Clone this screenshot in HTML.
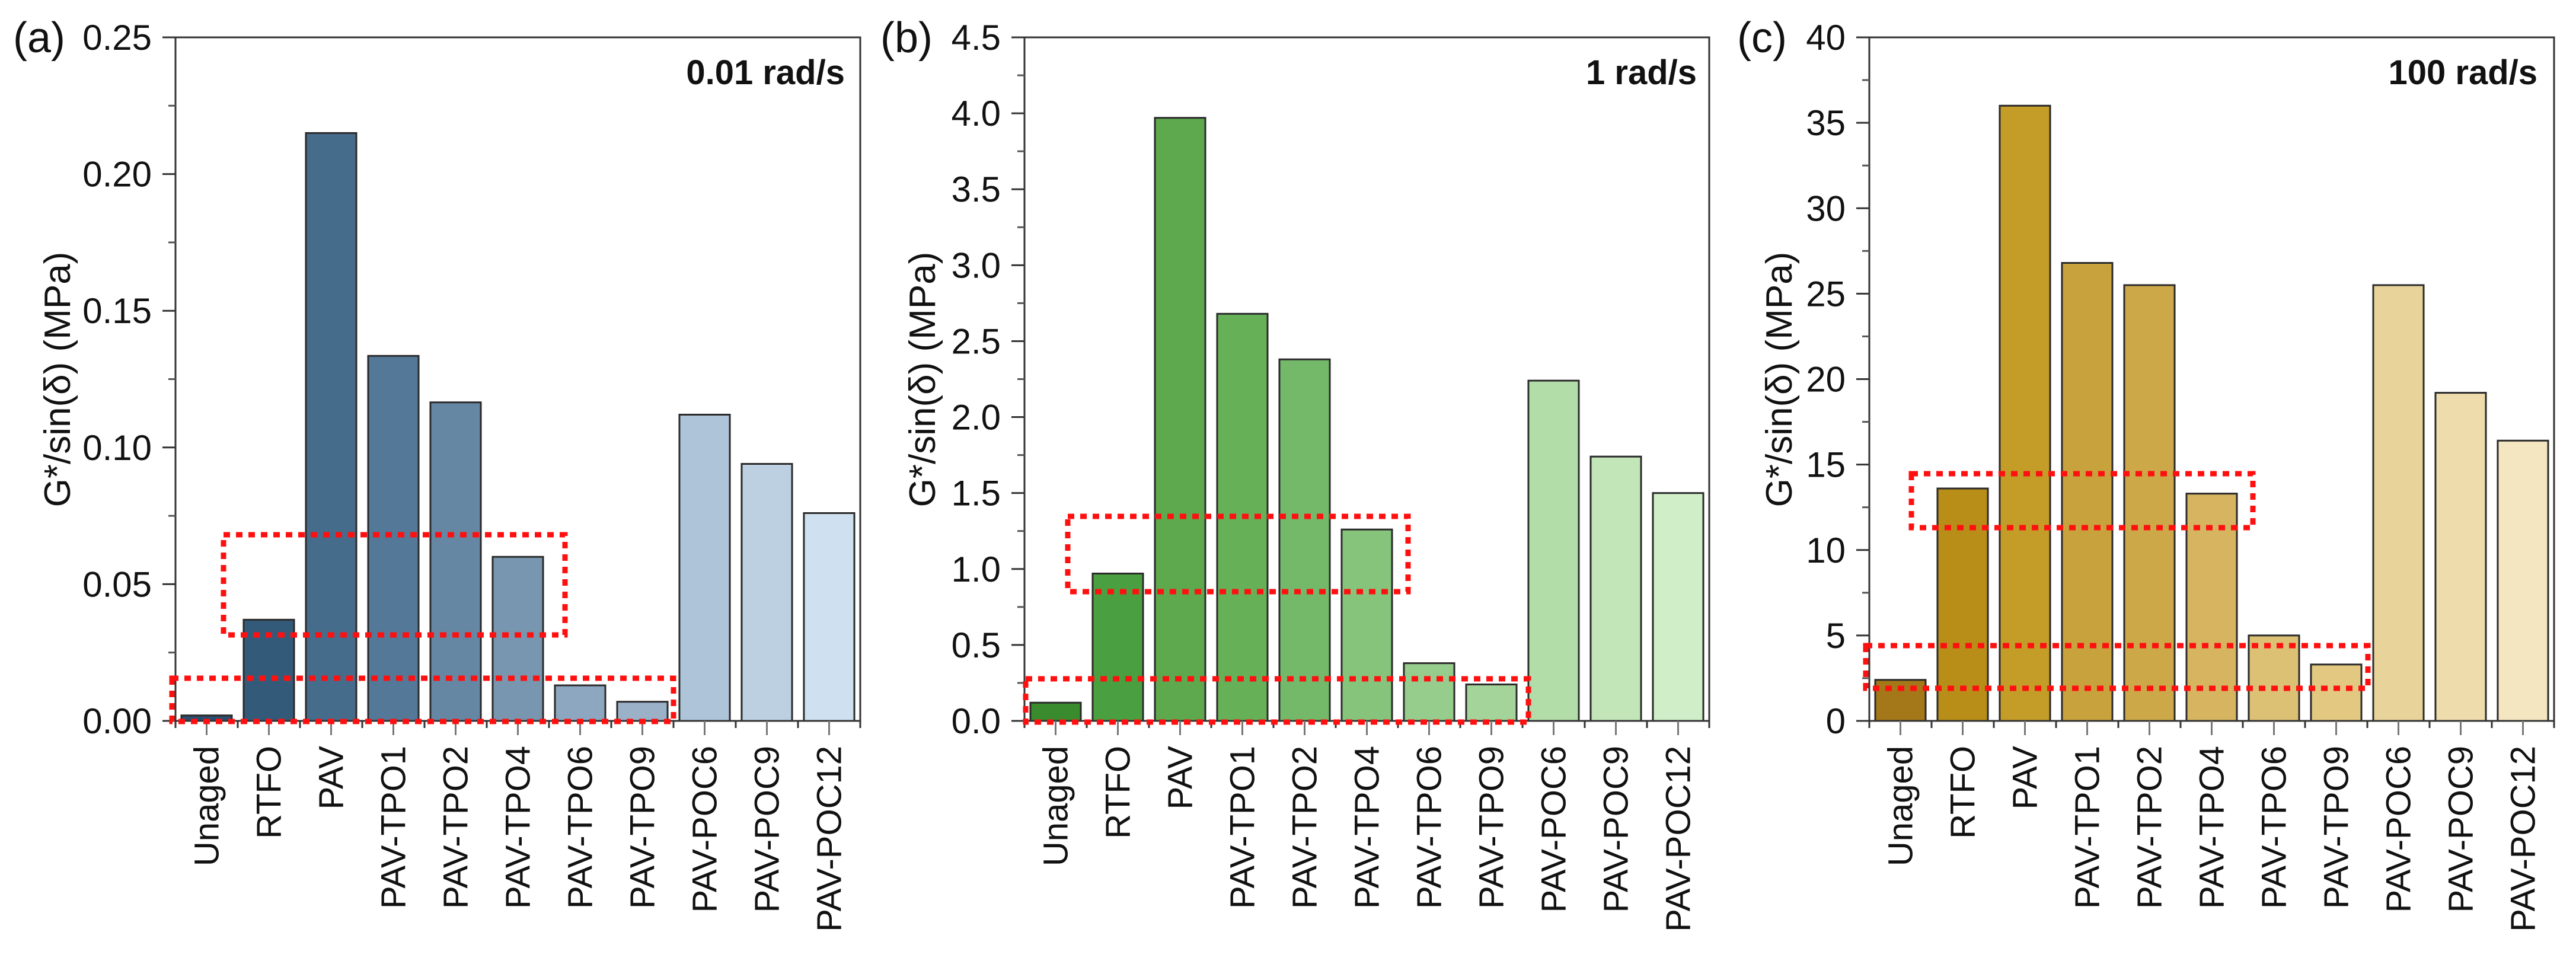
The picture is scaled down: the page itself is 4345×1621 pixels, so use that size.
<!DOCTYPE html>
<html><head><meta charset="utf-8"><style>
html,body{margin:0;padding:0;background:#fff;}
svg{display:block;font-family:"Liberation Sans",Arial,sans-serif;}
</style></head><body>
<svg id="chart" width="4345" height="1621" viewBox="0 0 4345 1621" xmlns="http://www.w3.org/2000/svg"></svg>
<script>
const categories = ["Unaged","RTFO","PAV","PAV-TPO1","PAV-TPO2","PAV-TPO4","PAV-TPO6","PAV-TPO9","PAV-POC6","PAV-POC9","PAV-POC12"];
const valuesA = [0.002,0.037,0.215,0.1335,0.1165,0.060,0.013,0.007,0.112,0.094,0.076];
const valuesB = [0.12,0.97,3.97,2.68,2.38,1.26,0.38,0.24,2.24,1.74,1.50];
const valuesC = [2.4,13.6,36.0,26.8,25.5,13.3,5.0,3.3,25.5,19.2,16.4];
const ticksA = ["0.00","0.05","0.10","0.15","0.20","0.25"];
const ticksB = ["0.0","0.5","1.0","1.5","2.0","2.5","3.0","3.5","4.0","4.5"];
const ticksC = ["0","5","10","15","20","25","30","35","40"];
const colorsA = ["#2c4e6e","#345a7a","#466c8c","#537898","#6687a3","#7896af","#8ca7bf","#9ab1c8","#aec4d8","#bcd0e2","#cfe1f0"];
const colorsB = ["#3a8a2e","#4aa040","#5ea84e","#66b058","#74b86a","#86c47c","#96cc8c","#a4d49a","#b2dca8","#c2e6b8","#d0eec8"];
const colorsC = ["#a47818","#b88e18","#c49c28","#c8a23c","#cca848","#d6b460","#dcc074","#e2c880","#e8d49a","#eedcac","#f4e6c0"];

const NS="http://www.w3.org/2000/svg";
const svg=document.getElementById('chart');
function mk(tag,attrs,parent){const e=document.createElementNS(NS,tag);for(const k in attrs)e.setAttribute(k,attrs[k]);(parent||svg).appendChild(e);return e;}

const panels=[
 {id:"a",left:296,vals:valuesA,ticks:ticksA,colors:colorsA,max:0.25,step:0.05,label:"(a)",labelX:22,titleX:97,freq:"0.01 rad/s",freqX:1425,
  rects:[[377,902,953,1071],[290,1144,1136,1217]]},
 {id:"b",left:1728,vals:valuesB,ticks:ticksB,colors:colorsB,max:4.5,step:0.5,label:"(b)",labelX:1485,titleX:1556,freq:"1 rad/s",freqX:2862,
  rects:[[1801,871,2375,998],[1730,1145,2578,1218]]},
 {id:"c",left:3153,vals:valuesC,ticks:ticksC,colors:colorsC,max:40,step:5,label:"(c)",labelX:2930,titleX:3001,freq:"100 rad/s",freqX:4280,
  rects:[[3224,799,3800,890],[3147,1089,3994,1161]]}
];
const TOP=63,BOTTOM=1216,W=1155,N=categories.length,SP=W/N;

panels.forEach(p=>{
  const g=mk('g',{});
  
  
  const y=v=>BOTTOM-(v/p.max)*(BOTTOM-TOP);
  const x=i=>p.left+SP*(i+0.5);
  p.vals.forEach((v,i)=>{
    const r=mk('rect',{x:x(i)-SP*0.405,y:y(v),width:SP*0.81,height:BOTTOM-y(v),fill:p.colors[i],stroke:"#2a2a2a","stroke-width":3},g);
    
    
  });
  const fr=mk('rect',{x:p.left,y:TOP,width:W,height:BOTTOM-TOP,fill:"none",stroke:"#333","stroke-width":3},g);
  
  
  p.ticks.forEach((t,k)=>{
    const v=k*p.step, yy=y(v);
    mk('line',{x1:p.left-22,x2:p.left,y1:yy,y2:yy,stroke:"#333","stroke-width":3},g);
    if(k<p.ticks.length-1){const ym=y(v+p.step/2);mk('line',{x1:p.left-12,x2:p.left,y1:ym,y2:ym,stroke:"#555","stroke-width":3},g);}
    const tx=mk('text',{x:p.left-40,y:yy+21,"text-anchor":"end","font-size":60,fill:"#111"},g);
    tx.textContent=t;
    
    
  });
  categories.forEach((c,i)=>{
    mk('line',{x1:x(i),x2:x(i),y1:BOTTOM,y2:BOTTOM+24,stroke:"#777","stroke-width":3},g);
    mk('line',{x1:p.left+SP*(i+1),x2:p.left+SP*(i+1),y1:BOTTOM,y2:BOTTOM+12,stroke:"#333","stroke-width":3},g);
    const tx=mk('text',{transform:`translate(${x(i)+20},1258) rotate(-90)`,"text-anchor":"end","font-size":58,fill:"#111"},g);
    tx.textContent=c;
    
    
  });
  mk('line',{x1:p.left,x2:p.left,y1:BOTTOM,y2:BOTTOM+12,stroke:"#333","stroke-width":3},g);
  p.rects.forEach(r=>{
    const rr=mk('rect',{x:r[0],y:r[1],width:r[2]-r[0],height:r[3]-r[1],fill:"none",stroke:"#ff1010","stroke-width":9,"stroke-dasharray":"11 10"},g);
    
    
  });
  const yt=mk('text',{transform:`translate(${p.titleX+21},640) rotate(-90)`,"text-anchor":"middle","font-size":62,fill:"#111"},g);
  yt.textContent="G*/sin(\u03b4) (MPa)";
  
  
  const pl=mk('text',{x:p.labelX,y:88,"font-size":72,fill:"#111"},g);
  pl.textContent=p.label;
  
  
  const fq=mk('text',{x:p.freqX,y:142,"text-anchor":"end","font-size":58,"font-weight":"bold",fill:"#111"},g);
  fq.textContent=p.freq;
  
  
});
</script>
</body></html>
